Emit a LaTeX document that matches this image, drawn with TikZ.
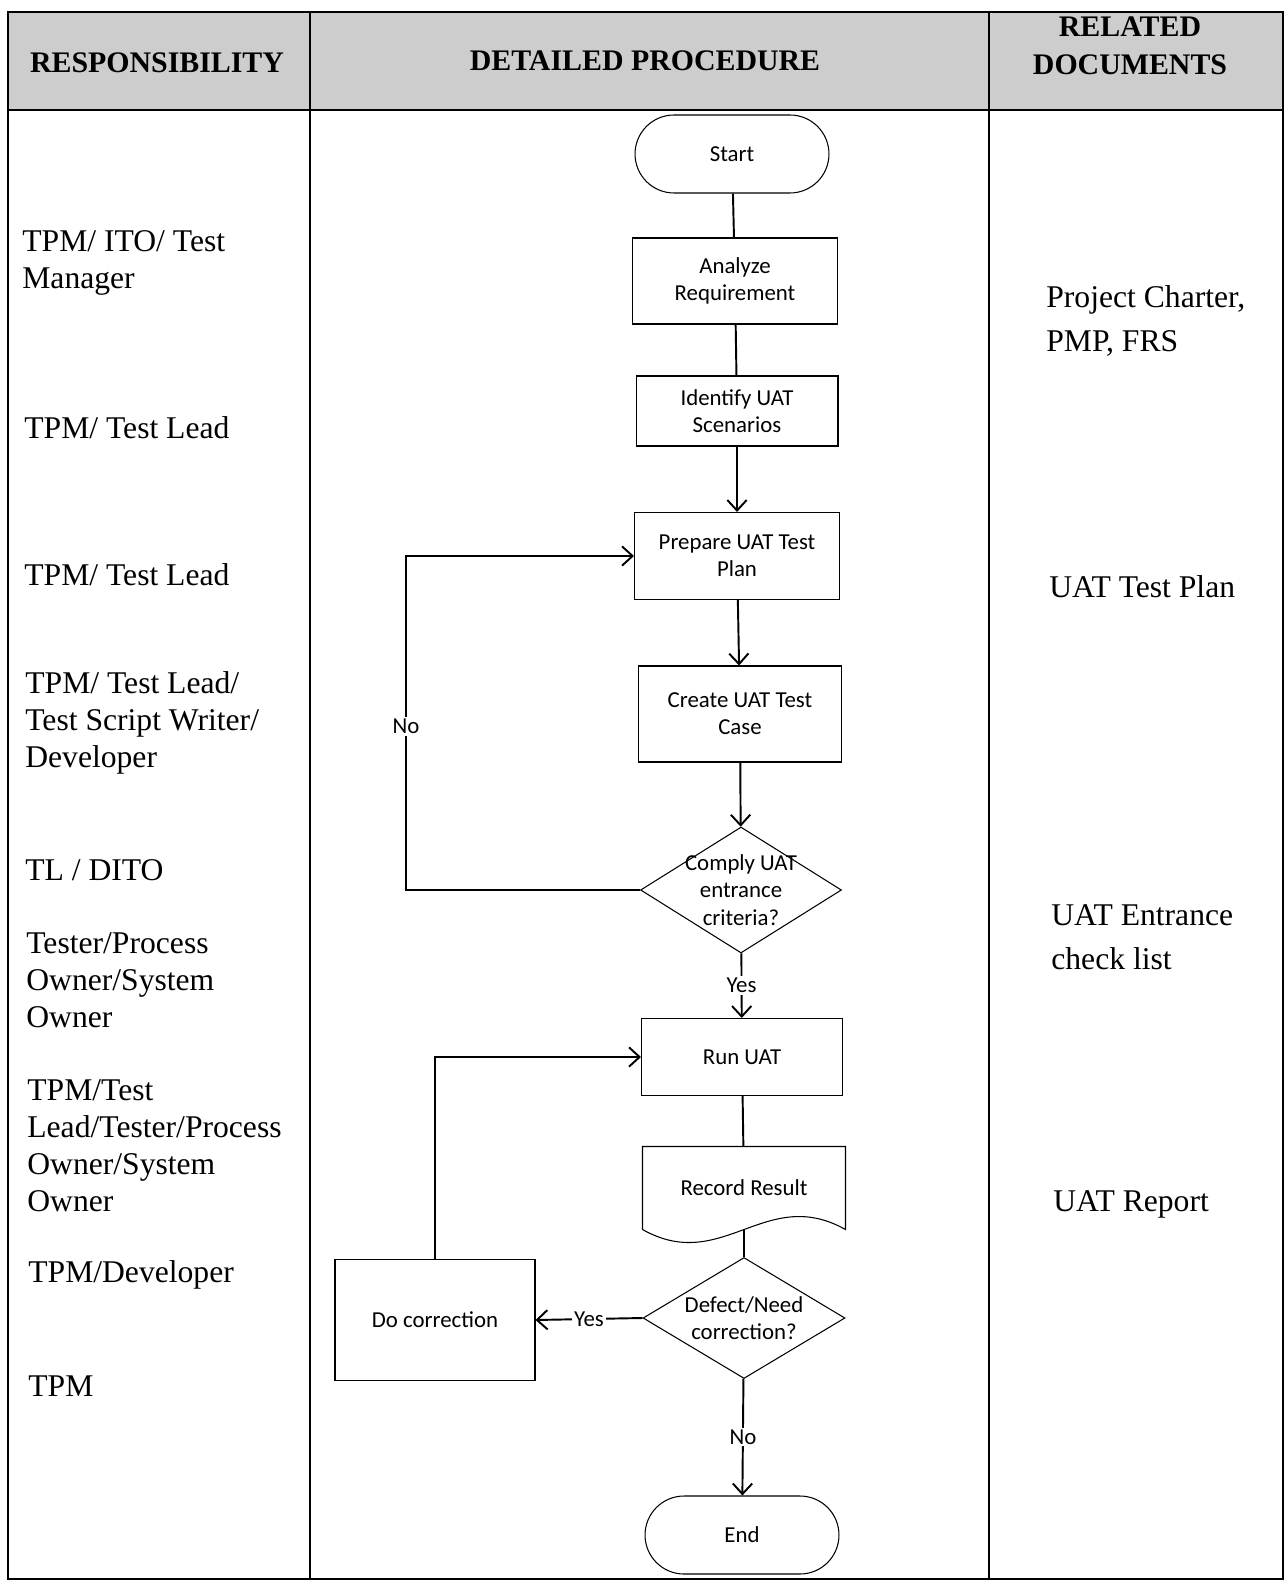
\documentclass[tikz,border=0pt]{standalone}
\usepackage{fontspec}
\setmainfont{Liberation Serif}
\newfontfamily\flowfont{Carlito}
\usetikzlibrary{shapes.geometric,shapes.misc,arrows.meta}

\definecolor{hdrgray}{RGB}{205,205,205}

\begin{document}
\begin{tikzpicture}[x=0.02cm, y=-0.02cm,
    proc/.style={draw, line width=0.6pt, rectangle, align=center, inner sep=2pt,
        font=\flowfont\fontsize{13pt}{15.5pt}\selectfont},
    term/.style={proc, rounded rectangle, minimum width=4.02cm, minimum height=1.56cm},
    decide/.style={draw, line width=0.6pt, diamond, inner sep=0pt},
    flowtext/.style={align=center, inner sep=0pt, font=\flowfont\fontsize{13pt}{15.5pt}\selectfont},
    flow/.style={line width=1.1pt},
    arr/.style={flow, -{Straight Barb[length=6pt,width=11pt,line width=1.1pt]}},
    lbl/.style={fill=white, inner sep=1pt, font=\flowfont\fontsize{13pt}{15pt}\selectfont},
    who/.style={anchor=west, align=left, inner sep=0pt, font=\fontsize{18pt}{21pt}\selectfont},
    reldoc/.style={anchor=west, align=left, inner sep=0pt, font=\fontsize{18pt}{25pt}\selectfont},
    head/.style={align=center, inner sep=0pt, font=\bfseries\fontsize{17pt}{21.5pt}\selectfont}]

  \useasboundingbox (0,0) rectangle (1284,1581);

  % table
  \fill[hdrgray] (8,12) rectangle (1283,110);
  \draw[line width=1.2pt] (8,12) rectangle (1283,1579);
  \draw[line width=1.2pt] (8,110) -- (1283,110);
  \draw[line width=1.2pt] (310,12) -- (310,1579);
  \draw[line width=1.2pt] (989,12) -- (989,1579);

  \node[head] (hresp) at (157,63) {RESPONSIBILITY};
  \node[head] (hproc) at (645,61) {DETAILED PROCEDURE};
  \node[head] (hdocs) at (1130,46) {RELATED\\DOCUMENTS};

  % responsibility
  \node[who] (r1) at (22,263) {TPM/ ITO/ Test\\Manager};
  \node[who] (r2) at (24,428) {TPM/ Test Lead};
  \node[who] (r3) at (24,575) {TPM/ Test Lead};
  \node[who] (r4) at (25,723) {TPM/ Test Lead/\\Test Script Writer/\\Developer};
  \node[who] (r5) at (25,870) {TL / DITO};
  \node[who] (r6) at (26,980) {Tester/Process\\Owner/System\\Owner};
  \node[who] (r7) at (27,1146) {TPM/Test\\Lead/Tester/Process\\Owner/System\\Owner};
  \node[who] (r8) at (28,1275) {TPM/Developer};
  \node[who] (r9) at (28,1386) {TPM};

  % related documents
  \node[reldoc] (d1) at (1046,321) {Project Charter,\\PMP, FRS};
  \node[reldoc] (d2) at (1049,587) {UAT Test Plan};
  \node[reldoc] (d3) at (1051,937) {UAT Entrance\\check list};
  \node[reldoc] (d4) at (1053,1204) {UAT Report};

  % procedure
  \node[term] (start) at (732,154) {Start};
  \node[proc, minimum width=4.1cm, minimum height=1.72cm] (analyze) at (735,281) {Analyze\\Requirement};
  \node[proc, minimum width=4.04cm, minimum height=1.4cm] (identify) at (737,411) {Identify UAT\\Scenarios};
  \node[proc, minimum width=4.1cm, minimum height=1.74cm] (prepare) at (737,556) {Prepare UAT Test\\Plan};
  \node[proc, minimum width=4.06cm, minimum height=1.92cm] (create) at (740,714) {Create UAT Test\\Case};
  \node[decide, minimum width=4.02cm, minimum height=2.52cm] (comply) at (741,890) {};
  \node[flowtext] (complytxt) at (741,890) {Comply UAT\\entrance\\criteria?};
  \node[proc, minimum width=4.02cm, minimum height=1.54cm] (run) at (742,1057) {Run UAT};
  \node[proc, draw=none, minimum width=4.04cm, minimum height=1.64cm] (record) at (744,1188) {Record Result};
  \draw[line width=0.6pt] (record.south west) -- (record.north west) -- (record.north east) -- (record.south east)
      .. controls +(-80,-45) and +(80,45) .. (record.south west);
  \node[decide, minimum width=4.04cm, minimum height=2.42cm] (defect) at (744,1318) {};
  \node[flowtext] (defecttxt) at (744,1318) {Defect/Need\\correction?};
  \node[proc, minimum width=4cm, minimum height=2.42cm] (docorr) at (435,1320) {Do correction};
  \node[term] (end) at (742,1535) {End};

  \coordinate (nobend) at (406,890);

  \draw[flow] (start) -- (analyze);
  \draw[flow] (analyze) -- (identify);
  \draw[arr] (identify) -- (prepare);
  \draw[arr] (prepare) -- (create);
  \draw[arr] (create) -- (comply);
  \draw[arr] (comply) -- node[lbl] {Yes} (run);
  \draw[arr] (comply.west) -- (nobend) |- node[lbl, pos=0.245] {No} (prepare.west);
  \draw[flow] (run) -- (record);
  \draw[flow] (record.south) -- (defect.north);
  \draw[arr] (defect.west) -- node[lbl] {Yes} (docorr.east);
  \draw[arr] (docorr.north) |- (run.west);
  \draw[arr] (defect) -- node[lbl] {No} (end);
\end{tikzpicture}
\end{document}
